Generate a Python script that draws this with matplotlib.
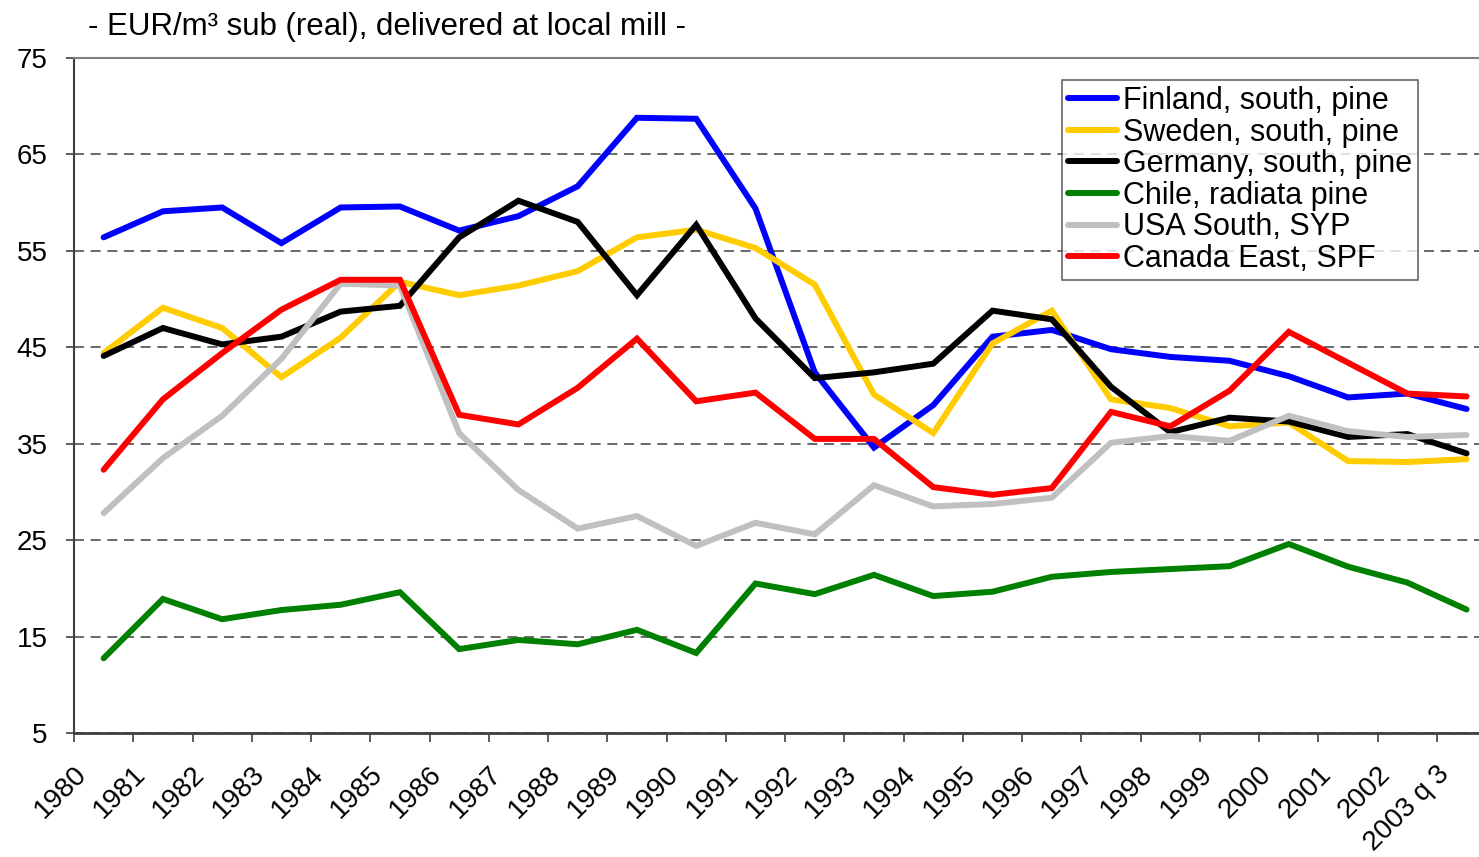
import matplotlib
matplotlib.use("Agg")
import matplotlib.pyplot as plt
import numpy as np

plt.rcParams['font.family'] = ['Liberation Sans', 'DejaVu Sans']

years = ["1980", "1981", "1982", "1983", "1984", "1985", "1986", "1987",
         "1988", "1989", "1990", "1991", "1992", "1993", "1994", "1995",
         "1996", "1997", "1998", "1999", "2000", "2001", "2002", "2003 q 3"]

finland = [56.4, 59.1, 59.5, 55.8, 59.5, 59.6, 57.1, 58.6, 61.7, 68.8, 68.7, 59.4,
           42.4, 34.6, 39.0, 46.1, 46.8, 44.8, 44.0, 43.6, 42.0, 39.8, 40.2, 38.6]
sweden = [44.4, 49.1, 47.0, 41.9, 46.0, 51.8, 50.4, 51.4, 52.9, 56.4, 57.2, 55.3,
          51.5, 40.1, 36.1, 45.4, 48.8, 39.6, 38.7, 36.8, 37.2, 33.2, 33.1, 33.4]
germany = [44.1, 47.0, 45.3, 46.1, 48.7, 49.3, 56.4, 60.2, 58.0, 50.4, 57.7, 48.0,
           41.8, 42.4, 43.3, 48.8, 47.9, 40.9, 36.2, 37.7, 37.3, 35.7, 36.0, 34.0]
chile = [12.75, 18.9, 16.8, 17.75, 18.3, 19.6, 13.7, 14.65, 14.2, 15.7, 13.3, 20.5,
         19.4, 21.4, 19.2, 19.65, 21.2, 21.7, 22.0, 22.3, 24.6, 22.25, 20.6, 17.8]
usa = [27.8, 33.5, 37.9, 43.8, 51.6, 51.4, 36.1, 30.2, 26.2, 27.5, 24.4, 26.8,
       25.6, 30.7, 28.5, 28.75, 29.4, 35.1, 35.8, 35.3, 37.9, 36.3, 35.7, 35.9]
canada = [32.3, 39.6, 44.4, 48.9, 52.0, 52.0, 38.0, 37.0, 40.8, 45.9, 39.4, 40.3,
          35.5, 35.5, 30.5, 29.7, 30.4, 38.3, 36.8, 40.5, 46.6, 43.4, 40.2, 39.9]

series = [
    ("Finland, south, pine", finland, "#0000FF"),
    ("Sweden, south, pine", sweden, "#FFCC00"),
    ("Germany, south, pine", germany, "#000000"),
    ("Chile, radiata pine", chile, "#008000"),
    ("USA South, SYP", usa, "#C0C0C0"),
    ("Canada East, SPF", canada, "#FF0000"),
]

W, H = 1479, 857
fig = plt.figure(figsize=(W / 100, H / 100), dpi=100)
ax = fig.add_axes([74 / W, (H - 733) / H, 1 - 74 / W, (733 - 58) / H])

x = np.arange(len(years))
for name, vals, col in series:
    ax.plot(x, vals, color=col, lw=4.3, label=name, solid_joinstyle='miter',
            solid_capstyle='round')

ax.set_ylim(5, 75)
ax.set_yticks(np.arange(5, 76, 10))
ax.set_xlim(-0.5, (W - 103.6) / 59.26)

# tick marks on category boundaries, labels drawn a little to the right of them
ax.set_xticks(x - 0.5, minor=True)
ax.set_xticks(x - 0.5 + 0.3)
ax.set_xticklabels(years, rotation=45, ha='right', va='top')
ax.tick_params(axis='x', which='minor', length=6.5, width=1.2, color='#404040')
ax.tick_params(axis='x', which='major', length=0, pad=20, labelsize=20)
ax.tick_params(axis='y', length=6, width=1.2, color='#404040', pad=13, labelsize=20)

ax.set_axisbelow(True)
ax.yaxis.grid(True, linestyle=(0, (6, 4)), color='#505050', lw=1.2)

ax.spines['right'].set_visible(False)
ax.spines['top'].set_color('#808080')
ax.spines['top'].set_linewidth(1.5)
ax.spines['left'].set_color('#404040')
ax.spines['left'].set_linewidth(1.5)
ax.spines['bottom'].set_color('#404040')
ax.spines['bottom'].set_linewidth(2)

leg = ax.legend(loc='upper right', bbox_to_anchor=(1418 / W, 1 - 80 / H),
                bbox_transform=fig.transFigure, borderaxespad=0, fontsize=22,
                frameon=True, fancybox=False, handlelength=1.6, handletextpad=0.2,
                labelspacing=0.05, borderpad=0.2)
leg.get_frame().set_edgecolor('#404040')
leg.get_frame().set_linewidth(1.2)
for line in leg.get_lines():
    line.set_linewidth(4.3)

fig.text(88 / W, 1 - 27 / H, "- EUR/m\u00b3 sub (real), delivered at local mill -",
         fontsize=22.5, ha='left', va='center')

fig.savefig("out.png", dpi=100)
